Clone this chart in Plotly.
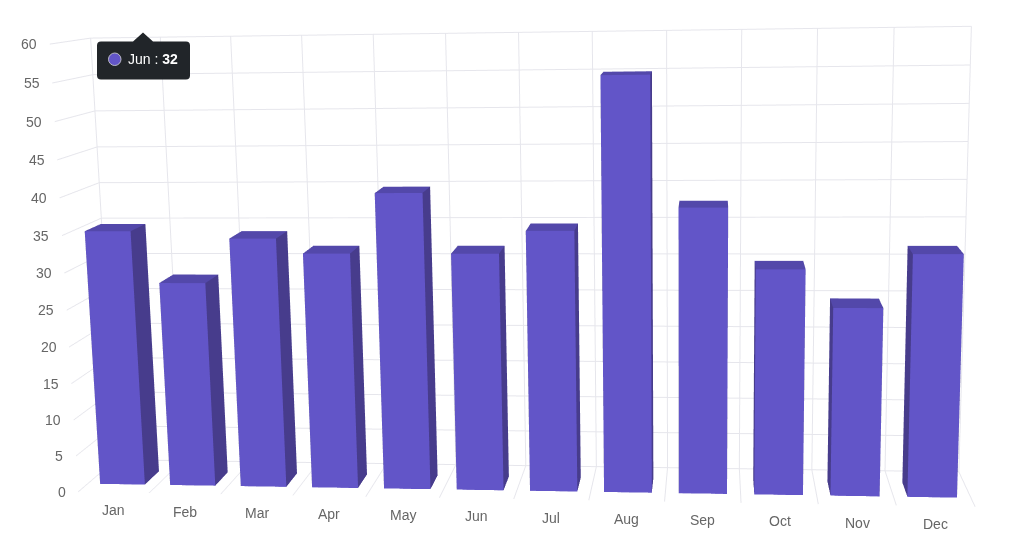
import plotly.graph_objects as go

categories = ["Jan", "Feb", "Mar", "Apr", "May", "Jun", "Jul", "Aug", "Sep", "Oct", "Nov", "Dec"]
values = [35, 28, 34, 32, 40, 32, 35, 55, 38, 30, 25, 32]
z_ticks = [0, 5, 10, 15, 20, 25, 30, 35, 40, 45, 50, 55, 60]
tooltip_index = 5

FRONT, SIDE, TOP = "#6255c8", "#473c8c", "#5348aa"
GRID = "#e6e6ec"
TEXT = "#666666"
W, H = 1009, 1490
OFFSET = 465.5
BAR_HALF = 0.32
Y0, Y1 = 0.24, 0.65


def px(x):
    return x / W


def py(y):
    return 1 - (y + OFFSET) / H


xs, ys, zs, ii, jj, kk, colors = [], [], [], [], [], [], []
QUADS = [((0, 1, 5, 4), FRONT), ((2, 3, 7, 6), SIDE), ((1, 2, 6, 5), SIDE),
         ((3, 0, 4, 7), SIDE), ((4, 5, 6, 7), TOP)]
for c, v in enumerate(values):
    base = len(xs)
    xl, xr = c - BAR_HALF, c + BAR_HALF
    xs += [xl, xr, xr, xl, xl, xr, xr, xl]
    ys += [Y0, Y0, Y1, Y1, Y0, Y0, Y1, Y1]
    zs += [0, 0, 0, 0, v, v, v, v]
    for (a, b, d, e), col in QUADS:
        ii += [base + a, base + a]
        jj += [base + b, base + d]
        kk += [base + d, base + e]
        colors += [col, col]

bars = go.Mesh3d(x=xs, y=ys, z=zs, i=ii, j=jj, k=kk, facecolor=colors, flatshading=True,
                 lighting=dict(ambient=1, diffuse=0, specular=0, fresnel=0, roughness=1),
                 hoverinfo="skip", showscale=False)

annotations3d = []
for t in z_ticks:
    annotations3d.append(dict(x=-0.5, y=0, z=t, text=str(t), showarrow=False, xanchor="right",
                              yanchor="middle", xshift=-10.5, font=dict(family="Liberation Sans", size=14, color=TEXT)))
for c, name in enumerate(categories):
    annotations3d.append(dict(x=c, y=0, z=0, text=name, showarrow=False, xanchor="center",
                              yanchor="middle", yshift=-18, font=dict(family="Liberation Sans", size=14, color=TEXT)))

hidden = dict(showticklabels=False, ticks="", title="", showbackground=False, showline=False,
              zeroline=False, showspikes=False, autorange=False)

scene = dict(
    domain=dict(x=[0, 1], y=[0, 1]),
    bgcolor="white",
    aspectmode="manual",
    aspectratio=dict(x=1.027, y=0.135, z=0.521),
    camera=dict(eye=dict(x=0.2245, y=-2.025, z=0.3543), center=dict(x=-0.0135, y=-0.003, z=-0.0187),
                up=dict(x=0.0185, y=0, z=1), projection=dict(type="perspective")),
    xaxis=dict(hidden, range=[-0.5, 11.5], tickvals=[i - 0.5 for i in range(13)], showgrid=True,
               gridcolor=GRID, gridwidth=2),
    yaxis=dict(hidden, range=[0, 1], showgrid=False),
    zaxis=dict(hidden, range=[0, 60], tickvals=z_ticks, showgrid=True, gridcolor=GRID, gridwidth=2),
    annotations=annotations3d,
    hovermode=False,
    dragmode=False,
)

L, R, T, B, r = px(97), px(190), py(41), py(79), 4
rx, ry = r / W, r / H
tip = (f"M {L + rx} {T} L {px(133)} {T} L {px(143)} {py(32)} L {px(153)} {T} L {R - rx} {T} "
       f"Q {R} {T} {R} {T - ry} L {R} {B + ry} Q {R} {B} {R - rx} {B} L {L + rx} {B} "
       f"Q {L} {B} {L} {B + ry} L {L} {T - ry} Q {L} {T} {L + rx} {T} Z")
shapes = [
    dict(type="path", xref="paper", yref="paper", path=tip, fillcolor="#212529", line=dict(width=0), layer="above"),
    dict(type="circle", xref="paper", yref="paper", x0=px(108.5), x1=px(121), y0=py(65), y1=py(52.5),
         fillcolor=FRONT, line=dict(color="#b9b9c4", width=1), layer="above"),
]
tooltip = dict(xref="paper", yref="paper", x=px(125.5), y=py(59), xanchor="left", yanchor="middle", showarrow=False,
               text=f"{categories[tooltip_index]} : <b>{values[tooltip_index]}</b>",
               font=dict(family="Liberation Sans", size=14, color="white"))

fig = go.Figure(bars)
fig.update_layout(width=W, height=H, margin=dict(l=0, r=0, t=0, b=0), paper_bgcolor="white",
                  scene=scene, shapes=shapes, annotations=[tooltip], showlegend=False)

post = ("document.documentElement.style.overflow='hidden';document.body.style.overflow='hidden';"
        "document.body.style.margin='0';var g=document.getElementById('{plot_id}');"
        f"g.style.position='absolute';g.style.left='0px';g.style.top='{-OFFSET}px';")
fig.write_html("out.html", config=dict(displayModeBar=False), post_script=post)
